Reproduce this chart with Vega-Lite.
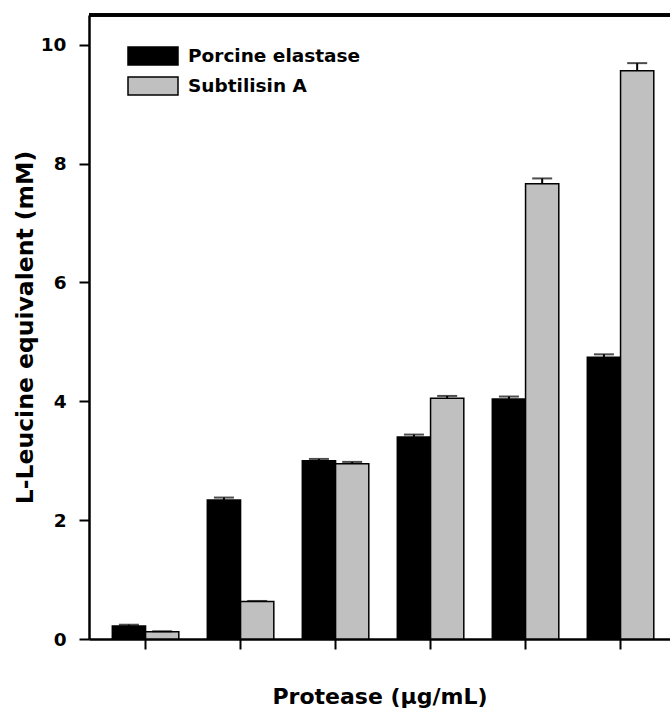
{
  "$schema": "https://vega.github.io/schema/vega-lite/v6.json",
  "width": 581,
  "height": 624,
  "autosize": "none",
  "padding": {"left": 89, "top": 15, "right": 0, "bottom": 72},
  "config": {
    "view": {"stroke": null},
    "font": "DejaVu Sans",
    "axis": {"grid": false, "domainColor": "black", "tickColor": "black", "labelColor": "black", "titleColor": "black"}
  },
  "data": {
    "values": [
      {"group": "1", "enzyme": "Porcine elastase", "value": 0.22, "hi": 0.24},
      {"group": "1", "enzyme": "Subtilisin A", "value": 0.12, "hi": 0.13},
      {"group": "2", "enzyme": "Porcine elastase", "value": 2.34, "hi": 2.38},
      {"group": "2", "enzyme": "Subtilisin A", "value": 0.63, "hi": 0.64},
      {"group": "3", "enzyme": "Porcine elastase", "value": 3.0, "hi": 3.03},
      {"group": "3", "enzyme": "Subtilisin A", "value": 2.95, "hi": 2.98},
      {"group": "4", "enzyme": "Porcine elastase", "value": 3.4, "hi": 3.44},
      {"group": "4", "enzyme": "Subtilisin A", "value": 4.05, "hi": 4.09},
      {"group": "5", "enzyme": "Porcine elastase", "value": 4.04, "hi": 4.08},
      {"group": "5", "enzyme": "Subtilisin A", "value": 7.66, "hi": 7.75},
      {"group": "6", "enzyme": "Porcine elastase", "value": 4.74, "hi": 4.79},
      {"group": "6", "enzyme": "Subtilisin A", "value": 9.56, "hi": 9.69}
    ]
  },
  "encoding": {
    "x": {
      "field": "group",
      "type": "ordinal",
      "sort": null,
      "scale": {"paddingInner": 0.3, "paddingOuter": 0.208, "align": 0.59},
      "axis": {
        "labels": false,
        "domainWidth": 2.5,
        "tickWidth": 2,
        "tickSize": 10,
        "title": "Protease (μg/mL)",
        "titleFontSize": 22,
        "titleFontWeight": "bold",
        "titlePadding": 36
      }
    }
  },
  "layer": [
    {
      "mark": {"type": "bar", "stroke": "black", "strokeWidth": 1.5},
      "encoding": {
        "xOffset": {"field": "enzyme", "type": "nominal", "scale": {"paddingInner": 0, "paddingOuter": 0}},
        "y": {
          "field": "value",
          "type": "quantitative",
          "scale": {"domain": [0, 10.5], "nice": false},
          "axis": {
            "values": [0, 2, 4, 6, 8, 10],
            "format": "d",
            "domainWidth": 2.5,
            "tickWidth": 2,
            "tickSize": 10,
            "labelFontSize": 18.5,
            "labelFontWeight": "bold",
            "labelPadding": 13,
            "title": "L-Leucine equivalent (mM)",
            "titleFontSize": 23.5,
            "titleFontWeight": "bold",
            "titlePadding": 3
          }
        },
        "fill": {
          "field": "enzyme",
          "type": "nominal",
          "scale": {"domain": ["Porcine elastase", "Subtilisin A"], "range": ["#000000", "#c0c0c0"]},
          "legend": {
            "title": null,
            "orient": "none",
            "legendX": 38,
            "legendY": 30,
            "padding": 0,
            "symbolType": "M-1,-0.9h5v1.8h-5z",
            "symbolSize": 400,
            "symbolStrokeColor": "black",
            "symbolStrokeWidth": 1.5,
            "symbolOpacity": 1,
            "labelFontSize": 18.5,
            "labelFontWeight": "bold",
            "labelColor": "black",
            "labelOffset": 39,
            "rowPadding": 6,
            "labelLimit": 400
          }
        }
      }
    },
    {
      "mark": {"type": "rule", "color": "black", "strokeWidth": 2},
      "encoding": {
        "xOffset": {"field": "enzyme", "type": "nominal", "scale": {"paddingInner": 0, "paddingOuter": 0}},
        "y": {"field": "value", "type": "quantitative"},
        "y2": {"field": "hi"}
      }
    },
    {
      "mark": {"type": "tick", "color": "black", "thickness": 2, "size": 20, "orient": "horizontal"},
      "encoding": {
        "xOffset": {"field": "enzyme", "type": "nominal", "scale": {"paddingInner": 0, "paddingOuter": 0}},
        "y": {"field": "hi", "type": "quantitative"}
      }
    },
    {
      "mark": {"type": "rule", "color": "black", "strokeWidth": 2.5},
      "encoding": {"y": {"datum": 10.5, "type": "quantitative"}, "x": null}
    }
  ]
}
